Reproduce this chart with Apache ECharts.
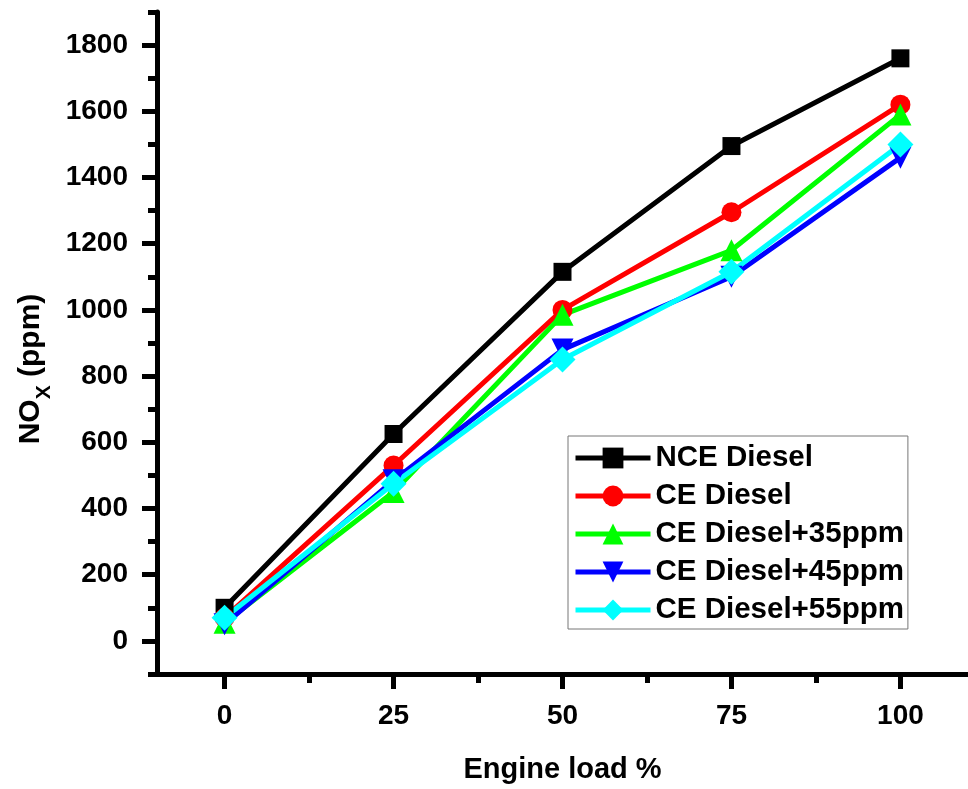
<!DOCTYPE html>
<html lang="en">
<head>
    <meta charset="UTF-8">
    <title>NOx vs Engine load</title>
    <script src="https://cdn.jsdelivr.net/npm/echarts@6/dist/echarts.min.js"></script>
    <style>
        html, body { margin: 0; padding: 0; background: #fff; }
        #main { width: 968px; height: 789px; }
    </style>
</head>
<body>
<div id="main"></div>
<script type="text/javascript">
    // engine load (%)
    var loads = [0, 25, 50, 75, 100];

    // NOx (ppm)
    var nceDiesel = [100, 625, 1115, 1495, 1760];
    var ceDiesel = [70, 530, 1000, 1295, 1620];
    var ce35 = [55, 450, 985, 1180, 1590];
    var ce45 = [50, 485, 880, 1100, 1460];
    var ce55 = [70, 475, 850, 1115, 1500];

    var xMajor = [0, 25, 50, 75, 100];
    var xMinor = [12.5, 37.5, 62.5, 87.5];
    var yMajor = [0, 200, 400, 600, 800, 1000, 1200, 1400, 1600, 1800];
    var yMinor = [-100, 100, 300, 500, 700, 900, 1100, 1300, 1500, 1700, 1900];

    var font = 'Liberation Sans, Arial, sans-serif';

    function pairs(ys) {
        var out = [];
        for (var i = 0; i < loads.length; i++) {
            out.push([loads[i], ys[i]]);
        }
        return out;
    }

    function makeSeries(name, ys, color, symbol, size, rotate) {
        return {
            name: name,
            type: 'line',
            data: pairs(ys),
            symbol: symbol,
            symbolSize: size,
            symbolRotate: rotate || 0,
            lineStyle: { color: color, width: 5 },
            itemStyle: { color: color, opacity: 1 },
            emphasis: { disabled: true }
        };
    }

    var myChart = echarts.init(document.getElementById('main'));

    var axisLineStyle = { color: '#000', width: 5 };

    var option = {
        animation: false,
        backgroundColor: '#fff',
        grid: { left: 157, right: -9, top: 12, bottom: 109 },
        legend: {
            orient: 'vertical',
            left: 568,
            top: 436,
            padding: [7, 4, 4, 5],
            itemWidth: 75,
            itemHeight: 26,
            itemGap: 8,
            borderColor: '#777',
            borderWidth: 1,
            backgroundColor: '#fff',
            lineStyle: { width: 5 },
            textStyle: {
                fontFamily: font,
                fontWeight: 'bold',
                fontSize: 29.5,
                lineHeight: 28,
                color: '#000'
            },
            data: ['NCE Diesel', 'CE Diesel', 'CE Diesel+35ppm', 'CE Diesel+45ppm', 'CE Diesel+55ppm']
        },
        xAxis: [
            {
                type: 'value',
                min: -10,
                max: 110,
                name: 'Engine load %',
                nameLocation: 'middle',
                nameGap: 81,
                nameTextStyle: { fontFamily: font, fontWeight: 'bold', fontSize: 29, color: '#000' },
                axisLine: { show: true, onZero: false, lineStyle: axisLineStyle },
                axisTick: { show: true, length: 15, customValues: xMajor, lineStyle: { color: '#000', width: 5 } },
                axisLabel: { customValues: xMajor, margin: 28, fontFamily: font, fontWeight: 'bold', fontSize: 28, color: '#000' },
                splitLine: { show: false }
            },
            {
                type: 'value',
                min: -10,
                max: 110,
                position: 'bottom',
                axisLine: { show: false, onZero: false },
                axisTick: { show: true, length: 9, customValues: xMinor, lineStyle: { color: '#000', width: 5 } },
                axisLabel: { show: false },
                splitLine: { show: false }
            }
        ],
        yAxis: [
            {
                type: 'value',
                min: -100,
                max: 1900,
                name: '{a|NO}{b|X}{a| (ppm)}',
                nameLocation: 'middle',
                nameGap: 108,
                nameRotate: 90,
                nameTextStyle: {
                    color: '#000',
                    padding: [0, 52, 0, 0],
                    rich: {
                        a: { fontFamily: font, fontWeight: 'bold', fontSize: 30, lineHeight: 32, verticalAlign: 'top', color: '#000' },
                        b: { fontFamily: font, fontWeight: 'bold', fontSize: 21, lineHeight: 21, padding: [18, 0, 0, 0], verticalAlign: 'top', color: '#000' }
                    }
                },
                axisLine: { show: true, onZero: false, lineStyle: axisLineStyle },
                axisTick: { show: true, length: 15, customValues: yMajor, lineStyle: { color: '#000', width: 5 } },
                axisLabel: {
                    customValues: yMajor,
                    margin: 29,
                    fontFamily: font,
                    fontWeight: 'bold',
                    fontSize: 28,
                    color: '#000',
                    formatter: function (v) { return String(v); }
                },
                splitLine: { show: false }
            },
            {
                type: 'value',
                min: -100,
                max: 1900,
                position: 'left',
                axisLine: { show: false, onZero: false },
                axisTick: { show: true, length: 9, customValues: yMinor, lineStyle: { color: '#000', width: 5 } },
                axisLabel: { show: false },
                splitLine: { show: false }
            }
        ],
        series: [
            makeSeries('NCE Diesel', nceDiesel, '#000000', 'rect', 18),
            makeSeries('CE Diesel', ceDiesel, '#ff0000', 'circle', 20),
            makeSeries('CE Diesel+35ppm', ce35, '#00ff00', 'triangle', 22),
            makeSeries('CE Diesel+45ppm', ce45, '#0000ff', 'triangle', 22, 180),
            makeSeries('CE Diesel+55ppm', ce55, '#00ffff', 'diamond', 26)
        ]
    };

    myChart.setOption(option);
</script>
</body>
</html>
